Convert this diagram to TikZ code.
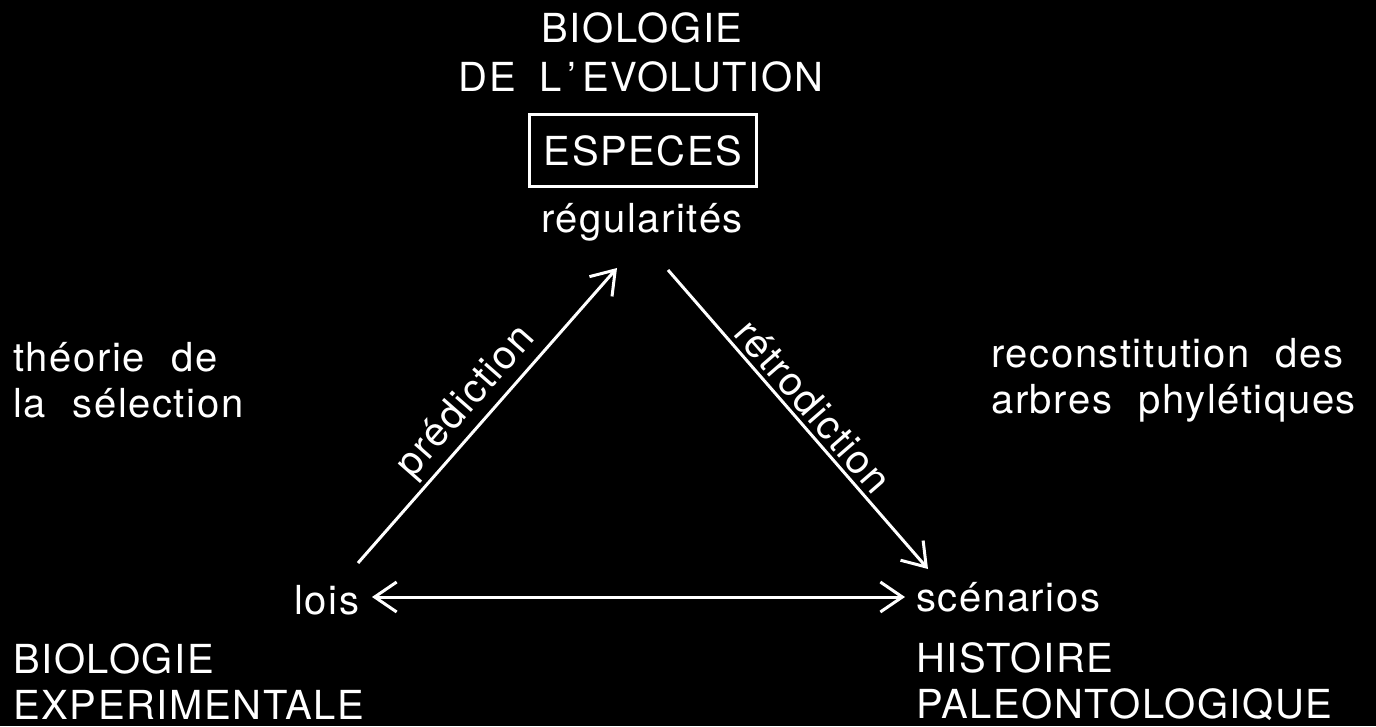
\documentclass[tikz,border=0pt]{standalone}
\usepackage{fontspec}
\setmainfont{TeX Gyre Heros}[LetterSpace=4, WordSpace=2.1]
\usetikzlibrary{arrows.meta}
\begin{document}
\begin{tikzpicture}[x=1pt,y=1pt,
  txt/.style={text=white, font=\fontsize{40}{46}\selectfont, inner sep=0pt},
  lbl/.style={text=white, font=\fontsize{40}{46}\selectfont, inner sep=4pt, sloped, above},
  arr/.style={draw=white, line width=3pt, -{Straight Barb[length=22pt, width=30pt, line width=3pt]}},
  darr/.style={draw=white, line width=3pt, {Straight Barb[length=22pt, width=30pt, line width=3pt]}-{Straight Barb[length=22pt, width=30pt, line width=3pt]}},
  boxed/.style={draw=white, line width=3pt, minimum width=227pt, minimum height=72pt}]
\fill[black] (0,0) rectangle (1376,726);
\useasboundingbox (0,0) rectangle (1376,726);
\node[txt] (bio) at (642,698) {BIOLOGIE};
\node[txt] (evo) at (641,649) {DE\hspace{0.6em}L\hspace{0.14em}’\hspace{0.14em}EVOLUTION};
\node[txt, boxed] (esp) at (643,575) {ESPECES};
\node[txt] (reg) at (642,504) {régularités};
\node[txt, anchor=west] (lois) at (294,126) {lois};
\node[txt, anchor=west] (scen) at (916,129) {scénarios};
\node[txt, anchor=west, align=left] (theo) at (13,346) {théorie de\\la sélection};
\node[txt, anchor=west, align=left] (reco) at (991,346) {reconstitution des\\arbres phylétiques};
\node[txt, anchor=west, align=left] (bexp) at (13,44) {BIOLOGIE\\EXPERIMENTALE};
\node[txt, anchor=west, align=left] (hist) at (916,44) {HISTOIRE\\PALEONTOLOGIQUE};
\coordinate (pa) at (358,163);
\coordinate (pb) at (617,458);
\coordinate (ra) at (668,456);
\coordinate (rb) at (928,157);
\coordinate (ha) at (372,129);
\coordinate (hb) at (905,129);
\draw[arr] (pa) -- node[lbl, pos=0.49] {prédiction} (pb);
\draw[arr] (ra) -- node[lbl, pos=0.5] {rétrodiction} (rb);
\draw[darr] (ha) -- (hb);
\end{tikzpicture}
\end{document}
